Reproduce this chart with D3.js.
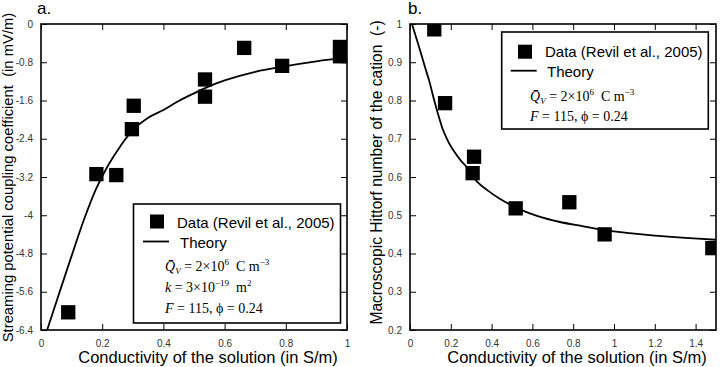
<!DOCTYPE html>
<html>
<head>
<meta charset="utf-8">
<script src="https://cdn.jsdelivr.net/npm/d3@7"></script>
<style>
	body { margin: 0; background: #fff; }
	text { fill: #000; }
</style>
</head>
<body>
<svg class="chart" width="724" height="367"></svg>
<script>
/** DATA **/
// panel a - streaming potential coupling coefficient
let aDataX = [0.089, 0.181, 0.246, 0.297, 0.303, 0.536, 0.536, 0.664, 0.788, 0.977, 0.977];
let aDataY = [-6.03, -3.14, -3.16, -2.20, -1.71, -1.16, -1.52, -0.50, -0.875, -0.48, -0.675];
let aCurveX = [0.02, 0.06, 0.10, 0.14, 0.18, 0.22, 0.26, 0.30, 0.35, 0.40, 0.45, 0.50, 0.54, 0.60, 0.70, 0.80, 0.90, 1.00];
let aCurveY = [-6.4, -5.62, -4.85, -4.1, -3.45, -2.95, -2.55, -2.22, -1.96, -1.8, -1.61, -1.45, -1.33, -1.18, -1.0, -0.88, -0.78, -0.70];
let aXTicks = [0, 0.2, 0.4, 0.6, 0.8, 1];
let aYTicks = [0, -0.8, -1.6, -2.4, -3.2, -4, -4.8, -5.6, -6.4];

// panel b - macroscopic Hittorf number
let bDataX = [0.119, 0.172, 0.307, 0.314, 0.518, 0.781, 0.954, 1.482];
let bDataY = [0.986, 0.793, 0.61, 0.653, 0.518, 0.534, 0.45, 0.414];
let bCurveX = [0.01, 0.03, 0.05, 0.073, 0.095, 0.114, 0.14, 0.162, 0.19, 0.211, 0.25, 0.276, 0.325, 0.38, 0.438, 0.536, 0.63, 0.73, 0.85, 0.95, 1.1, 1.2, 1.35, 1.5];
let bCurveY = [1.0, 0.965, 0.93, 0.888, 0.85, 0.81, 0.76, 0.723, 0.69, 0.671, 0.642, 0.627, 0.59, 0.565, 0.544, 0.516, 0.497, 0.483, 0.471, 0.461, 0.452, 0.447, 0.441, 0.436];
let bXTicks = [0, 0.2, 0.4, 0.6, 0.8, 1, 1.2, 1.4];
let bYTicks = [0.2, 0.3, 0.4, 0.5, 0.6, 0.7, 0.8, 0.9, 1];

let legendData = 'Data (Revil et al., 2005)';
let legendTheory = 'Theory';
let xTitle = 'Conductivity of the solution (in S/m)';

/** CONSTANTS **/
let sans = '"Liberation Sans", Arial, sans-serif';
let serif = '"Liberation Serif", "Times New Roman", serif';
let nb = '\u00a0';

let panels = [
	{
		id: 'a', left: 41, label: 'a.', labelX: 37,
		xDomain: [0, 1], yDomain: [-6.4, 0],
		xTicks: aXTicks, yTicks: aYTicks,
		dataX: aDataX, dataY: aDataY, curveX: aCurveX, curveY: aCurveY,
		yTitle: 'Streaming potential coupling coefficient' + nb + nb + '(in mV/m)',
		yTitleX: 12.5, yTitleY: 177.5, yTitleSize: 14.8,
		legend: {x: 133.5, y: 204, w: 207, h: 119, sq: [157, 221.5], dataX: 177, dataY: 228,
			line: [143, 169, 241.5], theoryX: 180, theoryY: 248, mathX: 165, mathY: [271, 292, 313]},
		math: ['Q', 'k', 'F']
	},
	{
		id: 'b', left: 410, label: 'b.', labelX: 408,
		xDomain: [0, 1.5], yDomain: [0.2, 1],
		xTicks: bXTicks, yTicks: bYTicks,
		dataX: bDataX, dataY: bDataY, curveX: bCurveX, curveY: bCurveY,
		yTitle: 'Macroscopic Hittorf number of the cation' + nb + nb + '(-)',
		yTitleX: 382, yTitleY: 172.5, yTitleSize: 15.6,
		legend: {x: 501.7, y: 32, w: 206.6, h: 97, sq: [525, 51.7], dataX: 545, dataY: 57,
			line: [510.7, 536.7, 70.7], theoryX: 547, theoryY: 77, mathX: 530, mathY: [101, 121]},
		math: ['Q', 'F']
	}
];

let plotW = 306;
let plotTop = 24;
let plotBottom = 330;

// math lines of the legends
let mathLines = {
	Q: [['Q\u0304', 'i'], ['V', 'sub'], [nb + '=' + nb + '2×10', ''], ['6', 'sup'], [nb + nb + 'C' + nb + 'm', ''], ['\u22123', 'sup']],
	k: [['k', 'i'], [nb + '=' + nb + '3×10', ''], ['\u221219', 'sup'], [nb + nb + 'm', ''], ['2', 'sup']],
	F: [['F', 'i'], [nb + '=' + nb + '115,' + nb + 'ϕ' + nb + '=' + nb + '0.24', '']]
};

// kick off chart creation
function createChart() {
	let svg = d3.select('.chart');
	panels.forEach(function(p) { createPanel(svg, p); });
}

function createPanel(svg, p) {
	let x = d3.scaleLinear().domain(p.xDomain).range([p.left, p.left + plotW]);
	let y = d3.scaleLinear().domain(p.yDomain).range([plotBottom, plotTop]);
	let g = svg.append('g').attr('class', 'panel-' + p.id);

	createAxes(g, p, x, y);
	createCurve(g, p, x, y);
	createPoints(g, p, x, y);
	createLegend(g, p);
	createTitles(g, p, x);
}

/** AXES **/
function createAxes(g, p, x, y) {
	let fmt = function(d) { return String(+d.toFixed(2)); };

	let bottom = g.append('g')
		.attr('transform', 'translate(0,' + plotBottom + ')')
		.call(d3.axisBottom(x).tickValues(p.xTicks).tickSize(-6).tickSizeOuter(0).tickPadding(10).tickFormat(fmt));
	let top = g.append('g')
		.attr('transform', 'translate(0,' + plotTop + ')')
		.call(d3.axisTop(x).tickValues(p.xTicks).tickSize(-6).tickSizeOuter(0).tickFormat(''));
	let left = g.append('g')
		.attr('transform', 'translate(' + p.left + ',0)')
		.call(d3.axisLeft(y).tickValues(p.yTicks).tickSize(-6).tickSizeOuter(0).tickPadding(8).tickFormat(fmt));
	let right = g.append('g')
		.attr('transform', 'translate(' + (p.left + plotW) + ',0)')
		.call(d3.axisRight(y).tickValues(p.yTicks).tickSize(-6).tickSizeOuter(0).tickFormat(''));

	[bottom, top, left, right].forEach(function(a) {
		a.select('.domain').remove();
		a.selectAll('.tick line').attr('stroke', '#000').attr('stroke-width', 1);
		a.selectAll('text')
			.style('font-family', sans)
			.style('font-size', '10px')
			.style('fill', '#333');
	});

	// frame
	g.append('rect')
		.attr('x', p.left)
		.attr('y', plotTop)
		.attr('width', plotW)
		.attr('height', plotBottom - plotTop)
		.attr('fill', 'none')
		.attr('stroke', '#000')
		.attr('stroke-width', 1.6);
}

/** MARKS **/
function createCurve(g, p, x, y) {
	let pts = p.curveX.map(function(d, i) { return [d, p.curveY[i]]; });
	let line = d3.line()
		.x(function(d) { return x(d[0]); })
		.y(function(d) { return y(d[1]); })
		.curve(d3.curveCatmullRom);
	g.append('path')
		.datum(pts)
		.attr('d', line)
		.attr('fill', 'none')
		.attr('stroke', '#000')
		.attr('stroke-width', 1.8);
}

function createPoints(g, p, x, y) {
	let size = 14.3;
	g.append('clipPath')
		.attr('id', 'clip-' + p.id)
		.append('rect')
		.attr('x', p.left)
		.attr('y', plotTop)
		.attr('width', plotW)
		.attr('height', plotBottom - plotTop);

	g.append('g')
		.attr('clip-path', 'url(#clip-' + p.id + ')')
		.selectAll('rect')
		.data(p.dataX)
		.enter()
		.append('rect')
		.attr('x', function(d) { return x(d) - size / 2; })
		.attr('y', function(d, i) { return y(p.dataY[i]) - size / 2; })
		.attr('width', size)
		.attr('height', size)
		.attr('fill', '#000');
}

/** LEGEND **/
function createLegend(g, p) {
	let l = p.legend;
	let lg = g.append('g').attr('class', 'legend');

	lg.append('rect')
		.attr('x', l.x)
		.attr('y', l.y)
		.attr('width', l.w)
		.attr('height', l.h)
		.attr('fill', '#fff')
		.attr('stroke', '#000')
		.attr('stroke-width', 1.6);

	lg.append('rect')
		.attr('x', l.sq[0] - 7)
		.attr('y', l.sq[1] - 7)
		.attr('width', 14)
		.attr('height', 14)
		.attr('fill', '#000');

	lg.append('text')
		.attr('x', l.dataX)
		.attr('y', l.dataY)
		.style('font-family', sans)
		.style('font-size', '15px')
		.text(legendData);

	lg.append('line')
		.attr('x1', l.line[0])
		.attr('x2', l.line[1])
		.attr('y1', l.line[2])
		.attr('y2', l.line[2])
		.attr('stroke', '#000')
		.attr('stroke-width', 1.8);

	lg.append('text')
		.attr('x', l.theoryX)
		.attr('y', l.theoryY)
		.style('font-family', sans)
		.style('font-size', '15px')
		.text(legendTheory);

	p.math.forEach(function(key, i) {
		addMath(lg, l.mathX, l.mathY[i], mathLines[key]);
	});
}

// math line with italic, sub and sup parts
function addMath(g, x, y, parts) {
	let t = g.append('text')
		.attr('x', x)
		.attr('y', y)
		.style('font-family', serif)
		.style('font-size', '14px');
	let shift = 0;
	parts.forEach(function(part) {
		let target = 0;
		if (part[1] === 'sup') target = -6;
		if (part[1] === 'sub') target = 3;
		let ts = t.append('tspan')
			.attr('dy', target - shift)
			.text(part[0]);
		if (part[1] === 'i' || part[1] === 'sub') ts.style('font-style', 'italic');
		if (part[1] === 'sup' || part[1] === 'sub') ts.style('font-size', '9px');
		shift = target;
	});
}

/** TITLES **/
function createTitles(g, p, x) {
	g.append('text')
		.attr('x', p.labelX)
		.attr('y', 14)
		.style('font-family', sans)
		.style('font-size', '17px')
		.text(p.label);

	g.append('text')
		.attr('x', p.left + plotW / 2 + 14)
		.attr('y', 363)
		.attr('text-anchor', 'middle')
		.style('font-family', sans)
		.style('font-size', '16.5px')
		.text(xTitle);

	g.append('text')
		.attr('transform', 'translate(' + p.yTitleX + ',' + p.yTitleY + ') rotate(-90)')
		.attr('text-anchor', 'middle')
		.style('font-family', sans)
		.style('font-size', p.yTitleSize + 'px')
		.text(p.yTitle);
}

createChart();
</script>
</body>
</html>
